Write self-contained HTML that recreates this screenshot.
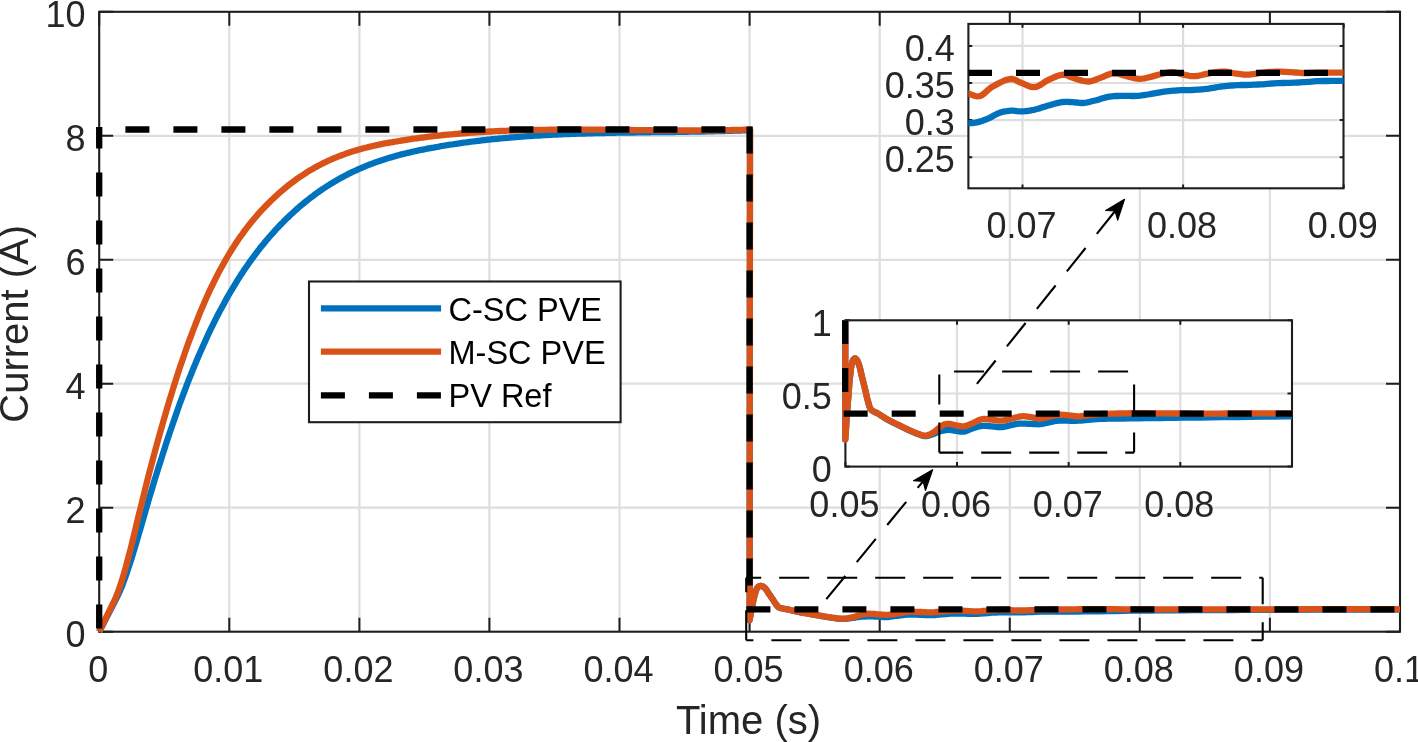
<!DOCTYPE html><html><head><meta charset="utf-8"><title>Current vs Time</title><style>html,body{margin:0;padding:0;background:#fff;overflow:hidden}svg{display:block;will-change:transform}text{font-family:"Liberation Sans",sans-serif}</style></head><body>
<svg width="1418" height="742" viewBox="0 0 1418 742">
<defs>
<clipPath id="cm"><rect x="95.2" y="7.800000000000001" width="1308.8" height="627.9"/></clipPath>
<clipPath id="cl"><rect x="841.4" y="320.3" width="450.6" height="146.3"/></clipPath>
<clipPath id="cu"><rect x="968.4" y="23.9" width="375.1" height="164.4"/></clipPath>
</defs>
<rect width="1418" height="742" fill="#fff"/>
<path d="M229.3,11.8V631.7M359.4,11.8V631.7M489.4,11.8V631.7M619.5,11.8V631.7M749.6,11.8V631.7M879.7,11.8V631.7M1009.8,11.8V631.7M1139.8,11.8V631.7M1269.9,11.8V631.7M99.2,507.7H1400.0M99.2,383.7H1400.0M99.2,259.8H1400.0M99.2,135.8H1400.0" stroke="#DEDEDE" stroke-width="2.2" fill="none"/>
<path d="M99.2,631.7V617.7M99.2,11.8V25.8M229.3,631.7V617.7M229.3,11.8V25.8M359.4,631.7V617.7M359.4,11.8V25.8M489.4,631.7V617.7M489.4,11.8V25.8M619.5,631.7V617.7M619.5,11.8V25.8M749.6,631.7V617.7M749.6,11.8V25.8M879.7,631.7V617.7M879.7,11.8V25.8M1009.8,631.7V617.7M1009.8,11.8V25.8M1139.8,631.7V617.7M1139.8,11.8V25.8M1269.9,631.7V617.7M1269.9,11.8V25.8M1400.0,631.7V617.7M1400.0,11.8V25.8M99.2,631.7H113.2M1400.0,631.7H1386.0M99.2,507.7H113.2M1400.0,507.7H1386.0M99.2,383.7H113.2M1400.0,383.7H1386.0M99.2,259.8H113.2M1400.0,259.8H1386.0M99.2,135.8H113.2M1400.0,135.8H1386.0M99.2,11.8H113.2M1400.0,11.8H1386.0" stroke="#1E1E1E" stroke-width="2" fill="none"/>
<rect x="99.2" y="11.8" width="1300.8" height="619.9" fill="none" stroke="#1E1E1E" stroke-width="2.1"/>
<g clip-path="url(#cm)" fill="none" stroke-linejoin="round">
<path d="M99.2,631.7 L115.2,600.7 L116.7,597.8 L118.2,594.7 L119.7,591.4 L121.3,587.8 L122.8,584 L124.3,579.9 L125.8,575.7 L127.3,571.3 L128.8,566.8 L130.4,562.1 L131.9,557.3 L133.4,552.4 L134.9,547.4 L136.4,542.3 L137.9,537.1 L139.4,531.9 L141,526.7 L142.5,521.4 L144,516.2 L145.5,510.9 L147,505.7 L148.5,500.5 L150,495.4 L151.6,490.3 L153.1,485.2 L154.6,480.2 L156.1,475.3 L157.6,470.4 L159.1,465.5 L160.7,460.7 L162.2,455.9 L163.7,451.2 L165.2,446.5 L166.7,441.8 L168.2,437.3 L169.7,432.7 L171.3,428.2 L172.8,423.8 L174.3,419.4 L175.8,415.1 L177.3,410.8 L178.8,406.5 L180.3,402.3 L181.9,398.2 L183.4,394.1 L184.9,390.1 L186.4,386.1 L187.9,382.2 L189.4,378.3 L191,374.5 L192.5,370.7 L194,367 L195.5,363.4 L197,359.7 L198.5,356.2 L200,352.7 L201.6,349.2 L203.1,345.8 L204.6,342.4 L206.1,339.1 L207.6,335.8 L209.1,332.6 L210.6,329.4 L212.2,326.3 L213.7,323.2 L215.2,320.2 L216.7,317.2 L218.2,314.3 L219.7,311.3 L221.3,308.5 L222.8,305.7 L224.3,302.9 L225.8,300.1 L227.3,297.4 L228.8,294.8 L230.3,292.2 L231.9,289.6 L233.4,287.1 L234.9,284.6 L236.4,282.1 L237.9,279.7 L239.4,277.3 L240.9,274.9 L242.5,272.6 L244,270.3 L245.5,268.1 L247,265.9 L248.5,263.7 L250,261.6 L251.6,259.4 L253.1,257.4 L254.6,255.3 L256.1,253.3 L257.6,251.3 L259.1,249.4 L260.6,247.4 L262.2,245.5 L263.7,243.7 L265.2,241.8 L266.7,240 L268.2,238.3 L269.7,236.5 L271.2,234.8 L272.8,233.1 L274.3,231.4 L275.8,229.7 L277.3,228.1 L278.8,226.5 L280.3,224.9 L281.9,223.4 L283.4,221.8 L284.9,220.3 L286.4,218.8 L287.9,217.4 L289.4,215.9 L290.9,214.5 L292.5,213.1 L294,211.7 L295.5,210.3 L297,209 L298.5,207.7 L300,206.3 L301.5,205.1 L303.1,203.8 L304.6,202.5 L306.1,201.3 L307.6,200.1 L309.1,198.9 L310.6,197.7 L312.2,196.6 L313.7,195.5 L315.2,194.3 L316.7,193.2 L318.2,192.2 L319.7,191.1 L321.2,190 L322.8,189 L324.3,188 L325.8,187 L327.3,186 L328.8,185.1 L330.3,184.1 L331.9,183.2 L333.4,182.3 L334.9,181.4 L336.4,180.5 L337.9,179.6 L339.4,178.8 L340.9,177.9 L342.5,177.1 L344,176.3 L345.5,175.5 L347,174.7 L348.5,173.9 L350,173.2 L351.5,172.4 L353.1,171.7 L354.6,171 L356.1,170.3 L357.6,169.6 L359.1,168.9 L360.6,168.3 L362.2,167.6 L363.7,167 L365.2,166.3 L366.7,165.7 L368.2,165.1 L369.7,164.5 L371.2,164 L372.8,163.4 L374.3,162.8 L375.8,162.3 L377.3,161.7 L378.8,161.2 L380.3,160.7 L381.8,160.2 L383.4,159.7 L384.9,159.2 L386.4,158.7 L387.9,158.3 L389.4,157.8 L390.9,157.4 L392.5,156.9 L394,156.5 L395.5,156.1 L397,155.6 L398.5,155.2 L400,154.8 L401.5,154.4 L403.1,154 L404.6,153.7 L406.1,153.3 L407.6,152.9 L409.1,152.6 L410.6,152.2 L412.1,151.9 L413.7,151.5 L415.2,151.2 L416.7,150.9 L418.2,150.5 L419.7,150.2 L421.2,149.9 L422.8,149.6 L424.3,149.3 L425.8,149 L427.3,148.7 L428.8,148.4 L430.3,148.1 L431.8,147.8 L433.4,147.6 L434.9,147.3 L436.4,147 L437.9,146.8 L439.4,146.5 L440.9,146.2 L442.4,146 L444,145.7 L445.5,145.5 L447,145.2 L448.5,145 L450,144.7 L451.5,144.5 L453.1,144.3 L454.6,144 L456.1,143.8 L457.6,143.6 L459.1,143.4 L460.6,143.1 L462.1,142.9 L463.7,142.7 L465.2,142.5 L466.7,142.3 L468.2,142.1 L469.7,141.9 L471.2,141.7 L472.7,141.5 L474.3,141.3 L475.8,141.1 L477.3,140.9 L478.8,140.8 L480.3,140.6 L481.8,140.4 L483.4,140.2 L484.9,140.1 L486.4,139.9 L487.9,139.7 L489.4,139.6 L490.9,139.4 L492.4,139.2 L494,139.1 L495.5,138.9 L497,138.8 L498.5,138.6 L500,138.5 L501.5,138.3 L503,138.2 L504.6,138 L506.1,137.9 L507.6,137.8 L509.1,137.6 L510.6,137.5 L512.1,137.4 L513.7,137.3 L515.2,137.1 L516.7,137 L518.2,136.9 L519.7,136.8 L521.2,136.7 L522.7,136.6 L524.3,136.4 L525.8,136.3 L527.3,136.2 L528.8,136.1 L530.3,136 L531.8,135.9 L533.3,135.8 L534.9,135.7 L536.4,135.6 L537.9,135.5 L539.4,135.5 L540.9,135.4 L542.4,135.3 L544,135.2 L545.5,135.1 L547,135 L548.5,134.9 L550,134.9 L551.5,134.8 L553,134.7 L554.6,134.6 L556.1,134.6 L557.6,134.5 L559.1,134.4 L560.6,134.4 L562.1,134.3 L563.7,134.2 L565.2,134.2 L566.7,134.1 L568.2,134.1 L569.7,134 L571.2,133.9 L572.7,133.9 L574.3,133.8 L575.8,133.8 L577.3,133.7 L578.8,133.7 L580.3,133.6 L581.8,133.6 L583.3,133.5 L584.9,133.5 L586.4,133.4 L587.9,133.4 L589.4,133.4 L590.9,133.3 L592.4,133.3 L594,133.2 L595.5,133.2 L597,133.2 L598.5,133.1 L600,133.1 L601.5,133 L603,133 L604.6,133 L606.1,132.9 L607.6,132.9 L609.1,132.9 L610.6,132.9 L612.1,132.8 L613.6,132.8 L615.2,132.8 L616.7,132.7 L618.2,132.7 L619.7,132.7 L621.2,132.7 L622.7,132.6 L624.3,132.6 L625.8,132.6 L627.3,132.6 L628.8,132.5 L630.3,132.5 L631.8,132.5 L633.3,132.5 L634.9,132.5 L636.4,132.4 L637.9,132.4 L639.4,132.4 L640.9,132.4 L642.4,132.4 L643.9,132.3 L645.5,132.3 L647,132.3 L648.5,132.3 L650,132.3 L651.5,132.2 L653,132.2 L654.6,132.2 L656.1,132.2 L657.6,132.2 L659.1,132.1 L660.6,132.1 L662.1,132.1 L663.6,132.1 L665.2,132.1 L666.7,132.1 L668.2,132 L669.7,132 L671.2,132 L672.7,132 L674.2,132 L675.8,131.9 L677.3,131.9 L678.8,131.9 L680.3,131.9 L681.8,131.8 L683.3,131.8 L684.9,131.8 L686.4,131.8 L687.9,131.8 L689.4,131.7 L690.9,131.7 L692.4,131.7 L693.9,131.7 L695.5,131.6 L697,131.6 L698.5,131.6 L700,131.5 L701.5,131.5 L703,131.5 L704.5,131.5 L706.1,131.4 L707.6,131.4 L709.1,131.4 L710.6,131.3 L712.1,131.3 L713.6,131.3 L715.2,131.2 L716.7,131.2 L718.2,131.2 L719.7,131.1 L721.2,131.1 L722.7,131 L724.2,131 L725.8,130.9 L727.3,130.9 L728.8,130.9 L730.3,130.8 L731.8,130.8 L733.3,130.7 L734.8,130.7 L736.4,130.6 L737.9,130.6 L739.4,130.5 L740.9,130.5 L742.4,130.4 L743.9,130.3 L745.5,130.3 L747,130.2 L748.5,130.2 L750,130.1 L749.6,620.3 L749.9,618.5 L750.4,616 L750.9,613.1 L751.5,609.9 L752,606.8 L752.6,604 L753.2,601.4 L753.8,598.7 L754.4,596 L755.1,593.5 L755.7,591.3 L756.4,589.6 L757,588.3 L757.7,587.3 L758.4,586.7 L759.1,586.3 L759.8,586.1 L760.6,586 L761.3,586 L762.1,586.2 L762.8,586.5 L763.6,587 L764.4,587.6 L765.1,588.2 L765.8,589 L766.4,589.9 L767.1,590.8 L767.7,591.8 L768.3,592.8 L768.9,593.8 L769.6,594.7 L770.2,595.6 L770.8,596.5 L771.4,597.4 L772,598.3 L772.7,599.3 L773.3,600.2 L773.9,601.2 L774.6,602.2 L775.2,603.1 L775.8,604 L776.4,604.8 L776.9,605.4 L777.3,606 L777.8,606.5 L778.2,606.9 L778.8,607.3 L779.7,607.7 L780.7,608.1 L781.8,608.3 L783.1,608.6 L784.5,608.8 L786,609.1 L787.7,609.4 L789.4,609.8 L791.2,610.3 L793.2,610.7 L795.3,611.2 L797.6,611.7 L800.3,612.3 L803.4,612.9 L807,613.5 L810.9,614.2 L814.7,614.9 L818.3,615.5 L821.4,616.1 L823.9,616.5 L826.1,616.9 L828,617.2 L829.7,617.4 L831.4,617.7 L833.1,617.9 L834.8,618.2 L836.4,618.4 L838,618.6 L839.5,618.8 L841,618.9 L842.5,618.9 L844,618.9 L845.5,618.8 L847,618.7 L848.4,618.5 L849.8,618.3 L851.2,618.2 L852.5,618 L853.6,617.8 L854.8,617.6 L855.9,617.4 L857,617.2 L858.2,617.1 L859.4,616.9 L860.6,616.8 L861.8,616.7 L863,616.6 L864.2,616.6 L865.3,616.5 L866.3,616.4 L867.2,616.4 L868,616.3 L868.8,616.3 L869.7,616.3 L870.8,616.3 L871.9,616.3 L873.1,616.4 L874.4,616.5 L875.7,616.6 L877,616.7 L878.5,616.7 L879.9,616.8 L881.5,616.9 L883.1,617 L884.7,617.1 L886.3,617.1 L887.9,617 L889.4,616.9 L890.9,616.7 L892.4,616.5 L893.9,616.2 L895.4,616 L897.1,615.8 L898.9,615.5 L900.8,615.3 L902.7,615.1 L904.7,614.9 L906.6,614.7 L908.5,614.6 L910.3,614.6 L912.1,614.6 L913.9,614.6 L915.6,614.7 L917.4,614.7 L919.2,614.8 L921.2,614.8 L923.1,614.9 L925.1,615 L927.1,615.1 L929.1,615.2 L931,615.2 L932.8,615.1 L934.6,615 L936.3,614.8 L938,614.7 L939.7,614.5 L941.4,614.4 L943.1,614.3 L944.8,614.1 L946.5,614 L948.2,613.9 L949.9,613.7 L951.7,613.7 L953.6,613.6 L955.5,613.6 L957.5,613.6 L959.5,613.7 L961.5,613.7 L963.5,613.7 L965.5,613.7 L967.6,613.8 L969.7,613.9 L971.8,613.9 L973.9,613.9 L975.9,613.9 L977.8,613.8 L979.6,613.7 L981.4,613.6 L983.2,613.4 L985,613.3 L986.8,613.1 L988.6,613 L990.2,612.8 L991.9,612.7 L993.7,612.6 L995.8,612.5 L998.3,612.4 L1001.4,612.4 L1004.9,612.4 L1008.6,612.4 L1012.6,612.4 L1016.7,612.4 L1020.7,612.4 L1024.6,612.3 L1028.3,612.2 L1032.2,612 L1036.3,611.9 L1041,611.7 L1046.6,611.6 L1053.1,611.6 L1060.5,611.5 L1068.4,611.5 L1076.6,611.5 L1084.8,611.4 L1092.8,611.4 L1100.4,611.3 L1107.8,611.1 L1115.2,611 L1122.8,610.8 L1131,610.7 L1139.8,610.6 L1149.6,610.5 L1160.2,610.4 L1171.2,610.3 L1182.5,610.3 L1193.8,610.2 L1204.9,610.2 L1215,610.1 L1224.2,610.1 L1233.3,610 L1243.4,609.9 L1255.3,609.9 L1269.9,609.8 L1289.3,609.8 L1313.3,609.7 L1339,609.6 L1363.9,609.6 L1385.1,609.5 L1400,609.5" stroke="#0072BD" stroke-width="6.3"/>
<path d="M99.2,631.7 L115.2,599 L116.7,595.3 L118.2,591.4 L119.7,587 L121.3,582.4 L122.8,577.5 L124.3,572.4 L125.8,567 L127.3,561.4 L128.8,555.6 L130.4,549.7 L131.9,543.7 L133.4,537.5 L134.9,531.3 L136.4,525 L137.9,518.8 L139.4,512.5 L141,506.2 L142.5,500 L144,493.9 L145.5,487.8 L147,481.8 L148.5,475.9 L150,470 L151.6,464.2 L153.1,458.4 L154.6,452.7 L156.1,447.1 L157.6,441.6 L159.1,436.1 L160.7,430.7 L162.2,425.3 L163.7,420 L165.2,414.8 L166.7,409.6 L168.2,404.5 L169.7,399.5 L171.3,394.5 L172.8,389.6 L174.3,384.8 L175.8,380 L177.3,375.3 L178.8,370.7 L180.3,366.1 L181.9,361.6 L183.4,357.2 L184.9,352.8 L186.4,348.5 L187.9,344.3 L189.4,340.1 L191,336 L192.5,332 L194,328 L195.5,324.1 L197,320.3 L198.5,316.5 L200,312.8 L201.6,309.1 L203.1,305.6 L204.6,302.1 L206.1,298.6 L207.6,295.2 L209.1,291.9 L210.6,288.7 L212.2,285.5 L213.7,282.4 L215.2,279.3 L216.7,276.3 L218.2,273.4 L219.7,270.5 L221.3,267.7 L222.8,265 L224.3,262.2 L225.8,259.6 L227.3,257 L228.8,254.5 L230.3,252 L231.9,249.5 L233.4,247.1 L234.9,244.8 L236.4,242.5 L237.9,240.2 L239.4,238 L240.9,235.9 L242.5,233.8 L244,231.7 L245.5,229.6 L247,227.7 L248.5,225.7 L250,223.8 L251.6,221.9 L253.1,220.1 L254.6,218.3 L256.1,216.5 L257.6,214.7 L259.1,213 L260.6,211.4 L262.2,209.7 L263.7,208.1 L265.2,206.5 L266.7,205 L268.2,203.4 L269.7,201.9 L271.2,200.4 L272.8,199 L274.3,197.5 L275.8,196.1 L277.3,194.8 L278.8,193.4 L280.3,192.1 L281.9,190.7 L283.4,189.5 L284.9,188.2 L286.4,187 L287.9,185.7 L289.4,184.5 L290.9,183.4 L292.5,182.2 L294,181.1 L295.5,180 L297,178.9 L298.5,177.8 L300,176.8 L301.5,175.8 L303.1,174.8 L304.6,173.8 L306.1,172.8 L307.6,171.9 L309.1,170.9 L310.6,170 L312.2,169.2 L313.7,168.3 L315.2,167.4 L316.7,166.6 L318.2,165.8 L319.7,165 L321.2,164.2 L322.8,163.4 L324.3,162.7 L325.8,162 L327.3,161.2 L328.8,160.5 L330.3,159.9 L331.9,159.2 L333.4,158.5 L334.9,157.9 L336.4,157.3 L337.9,156.7 L339.4,156.1 L340.9,155.5 L342.5,154.9 L344,154.4 L345.5,153.8 L347,153.3 L348.5,152.8 L350,152.3 L351.5,151.8 L353.1,151.3 L354.6,150.8 L356.1,150.4 L357.6,149.9 L359.1,149.5 L360.6,149.1 L362.2,148.6 L363.7,148.2 L365.2,147.8 L366.7,147.5 L368.2,147.1 L369.7,146.7 L371.2,146.4 L372.8,146 L374.3,145.7 L375.8,145.3 L377.3,145 L378.8,144.7 L380.3,144.4 L381.8,144 L383.4,143.7 L384.9,143.4 L386.4,143.2 L387.9,142.9 L389.4,142.6 L390.9,142.3 L392.5,142.1 L394,141.8 L395.5,141.5 L397,141.3 L398.5,141 L400,140.8 L401.5,140.5 L403.1,140.3 L404.6,140.1 L406.1,139.8 L407.6,139.6 L409.1,139.4 L410.6,139.2 L412.1,138.9 L413.7,138.7 L415.2,138.5 L416.7,138.3 L418.2,138.1 L419.7,137.9 L421.2,137.7 L422.8,137.5 L424.3,137.3 L425.8,137.1 L427.3,136.9 L428.8,136.7 L430.3,136.5 L431.8,136.4 L433.4,136.2 L434.9,136 L436.4,135.8 L437.9,135.7 L439.4,135.5 L440.9,135.4 L442.4,135.2 L444,135 L445.5,134.9 L447,134.7 L448.5,134.6 L450,134.4 L451.5,134.3 L453.1,134.2 L454.6,134 L456.1,133.9 L457.6,133.8 L459.1,133.6 L460.6,133.5 L462.1,133.4 L463.7,133.3 L465.2,133.1 L466.7,133 L468.2,132.9 L469.7,132.8 L471.2,132.7 L472.7,132.6 L474.3,132.5 L475.8,132.4 L477.3,132.3 L478.8,132.2 L480.3,132.1 L481.8,132 L483.4,131.9 L484.9,131.8 L486.4,131.7 L487.9,131.6 L489.4,131.5 L490.9,131.5 L492.4,131.4 L494,131.3 L495.5,131.2 L497,131.2 L498.5,131.1 L500,131 L501.5,131 L503,130.9 L504.6,130.8 L506.1,130.8 L507.6,130.7 L509.1,130.7 L510.6,130.6 L512.1,130.5 L513.7,130.5 L515.2,130.4 L516.7,130.4 L518.2,130.3 L519.7,130.3 L521.2,130.3 L522.7,130.2 L524.3,130.2 L525.8,130.1 L527.3,130.1 L528.8,130.1 L530.3,130 L531.8,130 L533.3,130 L534.9,129.9 L536.4,129.9 L537.9,129.9 L539.4,129.9 L540.9,129.8 L542.4,129.8 L544,129.8 L545.5,129.8 L547,129.8 L548.5,129.7 L550,129.7 L551.5,129.7 L553,129.7 L554.6,129.7 L556.1,129.7 L557.6,129.7 L559.1,129.6 L560.6,129.6 L562.1,129.6 L563.7,129.6 L565.2,129.6 L566.7,129.6 L568.2,129.6 L569.7,129.6 L571.2,129.6 L572.7,129.6 L574.3,129.6 L575.8,129.6 L577.3,129.6 L578.8,129.6 L580.3,129.6 L581.8,129.6 L583.3,129.6 L584.9,129.6 L586.4,129.6 L587.9,129.6 L589.4,129.7 L590.9,129.7 L592.4,129.7 L594,129.7 L595.5,129.7 L597,129.7 L598.5,129.7 L600,129.7 L601.5,129.7 L603,129.7 L604.6,129.8 L606.1,129.8 L607.6,129.8 L609.1,129.8 L610.6,129.8 L612.1,129.8 L613.6,129.8 L615.2,129.9 L616.7,129.9 L618.2,129.9 L619.7,129.9 L621.2,129.9 L622.7,129.9 L624.3,130 L625.8,130 L627.3,130 L628.8,130 L630.3,130 L631.8,130 L633.3,130.1 L634.9,130.1 L636.4,130.1 L637.9,130.1 L639.4,130.1 L640.9,130.1 L642.4,130.2 L643.9,130.2 L645.5,130.2 L647,130.2 L648.5,130.2 L650,130.2 L651.5,130.2 L653,130.3 L654.6,130.3 L656.1,130.3 L657.6,130.3 L659.1,130.3 L660.6,130.3 L662.1,130.3 L663.6,130.4 L665.2,130.4 L666.7,130.4 L668.2,130.4 L669.7,130.4 L671.2,130.4 L672.7,130.4 L674.2,130.4 L675.8,130.4 L677.3,130.4 L678.8,130.4 L680.3,130.4 L681.8,130.4 L683.3,130.4 L684.9,130.5 L686.4,130.5 L687.9,130.5 L689.4,130.5 L690.9,130.5 L692.4,130.5 L693.9,130.5 L695.5,130.4 L697,130.4 L698.5,130.4 L700,130.4 L701.5,130.4 L703,130.4 L704.5,130.4 L706.1,130.4 L707.6,130.4 L709.1,130.4 L710.6,130.4 L712.1,130.3 L713.6,130.3 L715.2,130.3 L716.7,130.3 L718.2,130.3 L719.7,130.3 L721.2,130.2 L722.7,130.2 L724.2,130.2 L725.8,130.2 L727.3,130.1 L728.8,130.1 L730.3,130.1 L731.8,130 L733.3,130 L734.8,130 L736.4,129.9 L737.9,129.9 L739.4,129.9 L740.9,129.8 L742.4,129.8 L743.9,129.7 L745.5,129.7 L747,129.6 L748.5,129.6 L750,129.5 L749.6,620.3 L749.9,618.5 L750.4,616 L750.9,613.1 L751.5,609.9 L752,606.8 L752.6,604 L753.2,601.4 L753.8,598.7 L754.4,596 L755.1,593.5 L755.7,591.3 L756.4,589.6 L757,588.3 L757.7,587.3 L758.4,586.7 L759.1,586.3 L759.8,586.1 L760.6,586 L761.3,586 L762.1,586.2 L762.8,586.5 L763.6,587 L764.4,587.6 L765.1,588.2 L765.8,589 L766.4,589.9 L767.1,590.8 L767.7,591.8 L768.3,592.8 L768.9,593.8 L769.6,594.7 L770.2,595.6 L770.8,596.5 L771.4,597.4 L772,598.3 L772.7,599.3 L773.3,600.2 L773.9,601.2 L774.6,602.2 L775.2,603.1 L775.8,604 L776.4,604.8 L776.9,605.4 L777.3,606 L777.8,606.5 L778.2,606.9 L778.8,607.3 L779.7,607.7 L780.7,608.1 L781.8,608.3 L783.1,608.6 L784.5,608.8 L786,609.1 L787.7,609.4 L789.4,609.8 L791.2,610.2 L793.2,610.7 L795.3,611.1 L797.6,611.6 L800.3,612.2 L803.4,612.8 L807,613.4 L810.9,614.1 L814.7,614.8 L818.3,615.4 L821.4,615.9 L823.9,616.4 L826.1,616.7 L828,617 L829.7,617.3 L831.4,617.6 L833.1,617.8 L834.8,618 L836.4,618.3 L838,618.5 L839.5,618.6 L841,618.7 L842.5,618.8 L844,618.7 L845.5,618.6 L847,618.4 L848.4,618.2 L849.8,617.9 L851.2,617.6 L852.5,617.3 L853.7,617 L854.8,616.7 L856,616.3 L857.1,615.9 L858.2,615.6 L859.3,615.3 L860.3,615 L861.4,614.7 L862.4,614.5 L863.4,614.2 L864.5,614.1 L865.5,613.9 L866.5,613.8 L867.5,613.8 L868.6,613.7 L869.6,613.7 L870.8,613.8 L871.9,613.8 L873.2,613.9 L874.4,614 L875.7,614.1 L877.1,614.3 L878.5,614.4 L879.9,614.5 L881.5,614.6 L883.1,614.7 L884.7,614.8 L886.3,614.8 L887.9,614.8 L889.4,614.7 L890.9,614.5 L892.4,614.3 L893.9,614.1 L895.4,613.8 L897.1,613.6 L898.9,613.3 L900.8,613 L902.7,612.6 L904.7,612.2 L906.6,612 L908.5,611.8 L910.3,611.7 L912.1,611.7 L913.9,611.7 L915.6,611.8 L917.4,611.9 L919.2,611.9 L921.1,612 L923.1,612.1 L925.1,612.2 L927.1,612.3 L929,612.4 L931,612.4 L932.9,612.3 L934.8,612.2 L936.7,612 L938.6,611.9 L940.6,611.7 L942.5,611.5 L944.6,611.3 L946.8,611.1 L949,610.9 L951.1,610.8 L953.2,610.6 L955.1,610.5 L956.9,610.5 L958.5,610.5 L960,610.6 L961.5,610.7 L963,610.7 L964.7,610.8 L966.4,610.9 L968.3,611.1 L970.2,611.2 L972.1,611.3 L974,611.4 L975.9,611.5 L977.7,611.4 L979.5,611.3 L981.3,611.2 L983.1,611 L985,610.9 L986.8,610.7 L988.7,610.6 L990.6,610.4 L992.6,610.3 L994.5,610.1 L996.5,610 L998.3,609.9 L1000.1,609.9 L1001.9,609.9 L1003.6,609.9 L1005.4,610 L1007.1,610 L1008.9,610.1 L1010.8,610.2 L1012.7,610.3 L1014.7,610.4 L1016.7,610.4 L1018.7,610.5 L1020.7,610.5 L1022.8,610.5 L1024.9,610.4 L1027,610.3 L1029.1,610.2 L1031.3,610.1 L1033.4,610.1 L1035.5,610 L1037.6,609.9 L1039.7,609.8 L1041.9,609.7 L1044.1,609.7 L1046.6,609.6 L1049.1,609.5 L1051.6,609.5 L1054.2,609.5 L1057,609.4 L1060.2,609.4 L1063.8,609.4 L1067.5,609.3 L1071.1,609.3 L1075,609.3 L1079.7,609.2 L1085.5,609.2 L1092.8,609.2 L1102.2,609.2 L1113.5,609.2 L1126,609.3 L1138.8,609.3 L1151.3,609.4 L1162.7,609.4 L1173.2,609.4 L1183.4,609.4 L1193.2,609.3 L1202.7,609.3 L1212,609.3 L1221,609.3 L1228.7,609.3 L1235,609.3 L1241,609.3 L1247.9,609.3 L1257.2,609.3 L1269.9,609.3 L1288.4,609.3 L1312.1,609.2 L1338,609.2 L1363.3,609.2 L1384.9,609.2 L1400,609.1" stroke="#D95319" stroke-width="6.3"/>
<line x1="99.2" y1="631.7" x2="99.2" y2="126.9" stroke="#000" stroke-width="6.3" stroke-dasharray="24 24" stroke-dashoffset="44.8"/>
<line x1="102.4" y1="129.5" x2="749.6" y2="129.5" stroke="#000" stroke-width="6.3" stroke-dasharray="24 24" stroke-dashoffset="25"/>
<line x1="749.6" y1="126.5" x2="749.6" y2="609.3" stroke="#000" stroke-width="6.3" stroke-dasharray="27 21" stroke-dashoffset="0"/>
<line x1="746.6" y1="609.3" x2="1400.0" y2="609.3" stroke="#000" stroke-width="6.3" stroke-dasharray="24 24" stroke-dashoffset="0.2"/>
</g>
<g font-size="36" fill="#262626"><text x="98.2" y="681.5" text-anchor="middle">0</text><text x="228.3" y="681.5" text-anchor="middle">0.01</text><text x="358.4" y="681.5" text-anchor="middle">0.02</text><text x="488.4" y="681.5" text-anchor="middle">0.03</text><text x="618.5" y="681.5" text-anchor="middle">0.04</text><text x="748.6" y="681.5" text-anchor="middle">0.05</text><text x="878.7" y="681.5" text-anchor="middle">0.06</text><text x="1008.8" y="681.5" text-anchor="middle">0.07</text><text x="1138.8" y="681.5" text-anchor="middle">0.08</text><text x="1268.9" y="681.5" text-anchor="middle">0.09</text><text x="1399.0" y="681.5" text-anchor="middle">0.1</text><text x="85.5" y="646.7" text-anchor="end">0</text><text x="85.5" y="522.7" text-anchor="end">2</text><text x="85.5" y="398.7" text-anchor="end">4</text><text x="85.5" y="274.8" text-anchor="end">6</text><text x="85.5" y="150.8" text-anchor="end">8</text><text x="85.5" y="26.8" text-anchor="end">10</text></g>
<text x="748.5" y="734.2" text-anchor="middle" font-size="40" fill="#262626">Time (s)</text>
<text transform="translate(27.8,323.8) rotate(-90)" text-anchor="middle" font-size="40" fill="#262626">Current (A)</text>
<rect x="309" y="281.5" width="311.6" height="140.7" fill="#fff" stroke="#1E1E1E" stroke-width="2.1"/>
<line x1="320.9" y1="308.4" x2="441.1" y2="308.4" stroke="#0072BD" stroke-width="6.3"/>
<line x1="320.9" y1="351.7" x2="441.1" y2="351.7" stroke="#D95319" stroke-width="6.3"/>
<line x1="320.9" y1="395.4" x2="441.1" y2="395.4" stroke="#000" stroke-width="6.3" stroke-dasharray="24 24"/>
<g font-size="32.5" fill="#000">
<text x="448.5" y="320.6">C-SC PVE</text>
<text x="448.5" y="363.8">M-SC PVE</text>
<text x="448.5" y="407">PV Ref</text>
</g>
<rect x="845.4" y="320.3" width="446.6" height="146.3" fill="#fff"/>
<path d="M957.0,320.3V466.6M1068.7,320.3V466.6M1180.3,320.3V466.6M845.4,393.5H1292.0" stroke="#DEDEDE" stroke-width="2.2" fill="none"/>
<path d="M845.4,466.6V462.1M845.4,320.3V324.8M957.0,466.6V462.1M957.0,320.3V324.8M1068.7,466.6V462.1M1068.7,320.3V324.8M1180.3,466.6V462.1M1180.3,320.3V324.8M845.4,466.6H849.9M1292.0,466.6H1287.5M845.4,393.5H849.9M1292.0,393.5H1287.5M845.4,320.3H849.9M1292.0,320.3H1287.5" stroke="#1E1E1E" stroke-width="2" fill="none"/>
<rect x="845.4" y="320.3" width="446.6" height="146.3" fill="none" stroke="#1E1E1E" stroke-width="2.1"/>
<g clip-path="url(#cl)" fill="none" stroke-linejoin="round">
<path d="M845.3,300 L845.3,439.4 L845.5,436.4 L845.8,432.4 L846.1,427.6 L846.4,422.3 L846.8,416.8 L847.2,411.2 L847.6,405.9 L848,401 L848.4,396.4 L848.8,391.6 L849.1,386.8 L849.5,382.1 L849.9,377.7 L850.4,373.6 L850.8,370 L851.2,367 L851.6,364.6 L852.1,362.8 L852.5,361.3 L853,360.3 L853.4,359.5 L853.9,359.1 L854.3,358.7 L854.8,358.5 L855.3,358.5 L855.8,358.7 L856.3,359.2 L856.8,359.9 L857.3,360.7 L857.8,361.7 L858.2,362.8 L858.7,363.9 L859.1,365.2 L859.6,366.6 L860,368.2 L860.4,369.9 L860.8,371.7 L861.2,373.5 L861.6,375.2 L862,376.9 L862.4,378.5 L862.8,380.1 L863.2,381.7 L863.6,383.3 L864,385 L864.4,386.6 L864.8,388.2 L865.2,389.8 L865.6,391.5 L866,393.2 L866.4,394.9 L866.8,396.7 L867.2,398.4 L867.6,400 L868,401.5 L868.4,402.8 L868.7,404 L869,405 L869.3,406 L869.6,406.8 L869.9,407.6 L870.2,408.3 L870.7,409 L871.2,409.7 L871.8,410.3 L872.5,410.8 L873.3,411.3 L874.1,411.7 L875,412.1 L876,412.6 L877,413.1 L878.1,413.7 L879.2,414.4 L880.4,415.1 L881.5,415.9 L882.8,416.7 L884.1,417.6 L885.6,418.5 L887.2,419.4 L888.9,420.4 L890.9,421.4 L893.1,422.6 L895.5,423.8 L898,425 L900.5,426.2 L902.9,427.3 L905.1,428.4 L907,429.3 L908.7,430.1 L910.1,430.8 L911.5,431.4 L912.7,431.9 L913.8,432.4 L914.9,432.8 L916,433.3 L917.1,433.7 L918.2,434.1 L919.3,434.5 L920.3,434.9 L921.3,435.3 L922.2,435.6 L923.2,435.8 L924.1,436 L925.1,436.1 L926.1,436.1 L927,436 L928,435.8 L929,435.5 L929.9,435.2 L930.8,434.9 L931.7,434.6 L932.6,434.3 L933.4,434 L934.2,433.7 L935,433.3 L935.7,433 L936.4,432.6 L937.1,432.3 L937.9,432 L938.6,431.7 L939.4,431.5 L940.2,431.2 L940.9,431 L941.7,430.9 L942.5,430.7 L943.3,430.6 L944,430.4 L944.7,430.3 L945.3,430.2 L945.9,430.1 L946.5,430 L947,429.9 L947.6,429.8 L948.1,429.8 L948.7,429.8 L949.4,429.8 L950.1,429.9 L950.9,430 L951.7,430.1 L952.5,430.3 L953.3,430.4 L954.2,430.6 L955.1,430.8 L956,430.9 L956.9,431 L957.9,431.2 L958.9,431.4 L960,431.5 L961,431.6 L962.1,431.7 L963.1,431.7 L964.1,431.6 L965.1,431.4 L966,431.1 L967,430.7 L967.9,430.3 L968.9,429.9 L969.9,429.4 L970.9,429 L972,428.6 L973.1,428.2 L974.3,427.8 L975.6,427.4 L976.8,427 L978.1,426.7 L979.3,426.4 L980.6,426.1 L981.8,425.9 L983,425.8 L984.1,425.8 L985.3,425.8 L986.4,425.9 L987.5,426 L988.7,426.1 L989.8,426.2 L991,426.3 L992.2,426.4 L993.5,426.6 L994.8,426.7 L996.1,426.9 L997.4,427 L998.6,427.2 L999.9,427.2 L1001.1,427.2 L1002.3,427.1 L1003.4,426.9 L1004.5,426.7 L1005.6,426.5 L1006.7,426.2 L1007.8,425.9 L1008.9,425.6 L1010,425.4 L1011.1,425.2 L1012.2,424.9 L1013.3,424.7 L1014.4,424.4 L1015.5,424.2 L1016.6,424 L1017.7,423.8 L1018.9,423.7 L1020.1,423.6 L1021.3,423.6 L1022.6,423.6 L1023.8,423.6 L1025.1,423.7 L1026.4,423.7 L1027.7,423.8 L1029,423.8 L1030.3,423.9 L1031.6,423.9 L1033,424 L1034.3,424.1 L1035.7,424.2 L1037,424.2 L1038.3,424.3 L1039.6,424.2 L1040.8,424.1 L1042,423.9 L1043.2,423.7 L1044.3,423.4 L1045.5,423.2 L1046.6,422.9 L1047.8,422.6 L1049,422.4 L1050.2,422.2 L1051.2,421.9 L1052.3,421.7 L1053.3,421.4 L1054.5,421.2 L1055.8,421 L1057.2,420.8 L1058.9,420.7 L1060.8,420.6 L1063,420.6 L1065.3,420.7 L1067.7,420.7 L1070.3,420.8 L1072.9,420.8 L1075.5,420.8 L1078.1,420.7 L1080.6,420.6 L1083,420.3 L1085.4,420.1 L1087.9,419.8 L1090.6,419.6 L1093.4,419.3 L1096.7,419.1 L1100.3,418.9 L1104.3,418.8 L1108.5,418.7 L1113,418.6 L1117.8,418.5 L1122.9,418.5 L1128.2,418.4 L1133.9,418.4 L1140,418.3 L1146.3,418.2 L1152.8,418.1 L1159.6,418 L1166.7,417.9 L1174.3,417.8 L1182.3,417.7 L1190.8,417.6 L1200,417.5 L1210.6,417.4 L1222.9,417.2 L1236.2,417 L1249.8,416.9 L1262.8,416.7 L1274.7,416.5 L1284.7,416.4 L1292,416.3" stroke="#0072BD" stroke-width="6.3"/>
<path d="M845.3,300 L845.3,439.4 L845.5,436.4 L845.8,432.4 L846.1,427.6 L846.4,422.3 L846.8,416.8 L847.2,411.2 L847.6,405.9 L848,401 L848.4,396.4 L848.8,391.6 L849.1,386.8 L849.5,382.1 L849.9,377.7 L850.4,373.6 L850.8,370 L851.2,367 L851.6,364.6 L852.1,362.8 L852.5,361.3 L853,360.3 L853.4,359.5 L853.9,359.1 L854.3,358.7 L854.8,358.5 L855.3,358.5 L855.8,358.7 L856.3,359.2 L856.8,359.9 L857.3,360.7 L857.8,361.7 L858.2,362.8 L858.7,363.9 L859.1,365.2 L859.6,366.6 L860,368.2 L860.4,369.9 L860.8,371.7 L861.2,373.5 L861.6,375.2 L862,376.9 L862.4,378.5 L862.8,380.1 L863.2,381.7 L863.6,383.3 L864,385 L864.4,386.6 L864.8,388.2 L865.2,389.8 L865.6,391.5 L866,393.2 L866.4,394.9 L866.8,396.7 L867.2,398.4 L867.6,400 L868,401.5 L868.4,402.8 L868.7,404 L869,405 L869.3,406 L869.6,406.8 L869.9,407.6 L870.2,408.3 L870.7,409 L871.2,409.7 L871.8,410.3 L872.5,410.8 L873.3,411.3 L874.1,411.7 L875,412.1 L876,412.5 L877,413 L878.1,413.6 L879.2,414.3 L880.4,415 L881.5,415.8 L882.8,416.6 L884.1,417.4 L885.6,418.3 L887.2,419.3 L888.9,420.2 L890.9,421.2 L893.1,422.3 L895.5,423.5 L898,424.7 L900.5,425.9 L902.9,427.1 L905.1,428.1 L907,429 L908.7,429.8 L910.1,430.5 L911.5,431.1 L912.7,431.6 L913.8,432.1 L914.9,432.6 L916,433 L917.1,433.4 L918.2,433.8 L919.3,434.2 L920.3,434.6 L921.3,435 L922.2,435.3 L923.2,435.5 L924.1,435.7 L925.1,435.7 L926.1,435.6 L927,435.4 L928,435.1 L929,434.8 L929.9,434.4 L930.8,433.9 L931.7,433.5 L932.6,433 L933.4,432.5 L934.2,431.9 L935,431.3 L935.7,430.7 L936.5,430.1 L937.2,429.5 L937.9,428.9 L938.6,428.3 L939.3,427.8 L940,427.2 L940.7,426.7 L941.3,426.2 L942,425.7 L942.7,425.3 L943.3,424.9 L944,424.6 L944.7,424.4 L945.3,424.2 L946,424 L946.6,423.9 L947.3,423.9 L948,423.9 L948.7,423.9 L949.4,423.9 L950.2,424 L950.9,424.1 L951.7,424.3 L952.5,424.5 L953.4,424.7 L954.2,424.9 L955.1,425.1 L956,425.3 L956.9,425.5 L957.9,425.7 L958.9,425.9 L960,426.1 L961,426.2 L962.1,426.3 L963.1,426.4 L964.1,426.3 L965.1,426.1 L966,425.9 L967,425.6 L967.9,425.2 L968.9,424.8 L969.9,424.4 L970.9,423.9 L972,423.5 L973.1,423 L974.3,422.4 L975.6,421.8 L976.8,421.1 L978.1,420.5 L979.3,420 L980.6,419.5 L981.8,419.2 L983,419 L984.1,419 L985.3,419 L986.4,419.1 L987.5,419.2 L988.7,419.3 L989.8,419.5 L991,419.6 L992.2,419.7 L993.5,419.9 L994.7,420.1 L996,420.3 L997.3,420.5 L998.6,420.6 L999.8,420.7 L1001.1,420.7 L1002.3,420.6 L1003.6,420.4 L1004.8,420.2 L1006,419.9 L1007.2,419.5 L1008.5,419.2 L1009.7,418.9 L1011,418.6 L1012.3,418.3 L1013.7,418 L1015.1,417.6 L1016.5,417.3 L1017.9,417 L1019.3,416.7 L1020.6,416.4 L1021.8,416.3 L1022.9,416.2 L1024,416.2 L1025,416.3 L1026,416.4 L1026.9,416.5 L1027.9,416.7 L1028.9,416.9 L1030,417 L1031.1,417.2 L1032.3,417.4 L1033.5,417.6 L1034.7,417.9 L1036,418.1 L1037.2,418.3 L1038.4,418.5 L1039.6,418.5 L1040.8,418.4 L1042,418.3 L1043.1,418.1 L1044.3,417.9 L1045.4,417.6 L1046.6,417.3 L1047.8,417 L1049,416.8 L1050.2,416.5 L1051.5,416.3 L1052.7,416 L1054,415.7 L1055.2,415.4 L1056.5,415.1 L1057.7,414.9 L1058.9,414.8 L1060.1,414.7 L1061.2,414.7 L1062.3,414.8 L1063.4,414.9 L1064.5,415 L1065.7,415.1 L1066.8,415.2 L1068,415.3 L1069.2,415.4 L1070.4,415.6 L1071.7,415.7 L1072.9,415.9 L1074.2,416.1 L1075.5,416.2 L1076.8,416.3 L1078.1,416.3 L1079.4,416.3 L1080.8,416.2 L1082.1,416 L1083.5,415.9 L1084.8,415.7 L1086.2,415.5 L1087.6,415.4 L1089,415.2 L1090.4,415.1 L1091.7,414.9 L1093.1,414.8 L1094.4,414.6 L1095.8,414.5 L1097.2,414.3 L1098.7,414.2 L1100.3,414.1 L1101.9,414 L1103.5,413.9 L1105.1,413.9 L1106.8,413.8 L1108.7,413.8 L1110.6,413.7 L1112.7,413.7 L1115.1,413.6 L1117.5,413.5 L1119.8,413.5 L1122.2,413.4 L1124.7,413.3 L1127.6,413.3 L1131.1,413.2 L1135.1,413.2 L1140,413.2 L1145.9,413.2 L1152.8,413.3 L1160.4,413.3 L1168.4,413.4 L1176.7,413.5 L1184.9,413.5 L1192.7,413.6 L1200,413.6 L1206.8,413.6 L1213.4,413.6 L1219.8,413.6 L1226.1,413.5 L1232.3,413.5 L1238.3,413.5 L1244.2,413.4 L1250,413.4 L1255.9,413.4 L1262,413.4 L1268.2,413.4 L1274.1,413.4 L1279.7,413.4 L1284.6,413.4 L1288.8,413.4 L1292,413.4" stroke="#D95319" stroke-width="6.3"/>
<line x1="845.2" y1="413.6" x2="845.2" y2="300" stroke="#000" stroke-width="6.3" stroke-dasharray="24 24" stroke-dashoffset="26.4"/>
<line x1="843.7" y1="413.6" x2="1292.0" y2="413.6" stroke="#000" stroke-width="6.3" stroke-dasharray="24 24" stroke-dashoffset="0"/>
</g>
<g font-size="36" fill="#262626"><text x="844.4" y="517.1" text-anchor="middle">0.05</text><text x="956.0" y="517.1" text-anchor="middle">0.06</text><text x="1067.7" y="517.1" text-anchor="middle">0.07</text><text x="1179.3" y="517.1" text-anchor="middle">0.08</text><text x="831.9" y="482.4" text-anchor="end">0</text><text x="831.9" y="409.3" text-anchor="end">0.5</text><text x="831.9" y="336.1" text-anchor="end">1</text></g>
<rect x="968.4" y="23.9" width="375.1" height="164.4" fill="#fff"/>
<path d="M1022.5,23.9V188.3M1183.1,23.9V188.3M968.4,157.2H1343.5M968.4,120.1H1343.5M968.4,83.0H1343.5M968.4,45.9H1343.5" stroke="#DEDEDE" stroke-width="2.2" fill="none"/>
<path d="M1022.5,188.3V184.5M1022.5,23.9V27.7M1183.1,188.3V184.5M1183.1,23.9V27.7M1343.7,188.3V184.5M1343.7,23.9V27.7M968.4,157.2H972.1999999999999M1343.5,157.2H1339.7M968.4,120.1H972.1999999999999M1343.5,120.1H1339.7M968.4,83.0H972.1999999999999M1343.5,83.0H1339.7M968.4,45.9H972.1999999999999M1343.5,45.9H1339.7" stroke="#1E1E1E" stroke-width="2" fill="none"/>
<rect x="968.4" y="23.9" width="375.1" height="164.4" fill="none" stroke="#1E1E1E" stroke-width="2.1"/>
<g clip-path="url(#cu)" fill="none" stroke-linejoin="round">
<path d="M960,123.8 L960.7,123.8 L961.7,123.7 L962.9,123.7 L964.3,123.6 L965.7,123.5 L967.1,123.4 L968.6,123.3 L970.1,123.2 L971.7,123.1 L973.4,123 L975.1,122.7 L976.9,122.4 L978.7,121.9 L980.6,121.4 L982.5,120.7 L984.4,120 L986.3,119.3 L988.2,118.5 L990.1,117.6 L992,116.6 L993.9,115.5 L995.7,114.5 L997.6,113.6 L999.5,112.8 L1001.4,112.2 L1003.2,111.7 L1005.1,111.3 L1006.9,111.1 L1008.8,110.8 L1010.8,110.7 L1012.8,110.7 L1014.9,110.8 L1017.1,111.1 L1019.2,111.3 L1021.4,111.4 L1023.5,111.4 L1025.6,111.2 L1027.8,111 L1029.9,110.6 L1032.1,110.2 L1034.2,109.8 L1036.2,109.3 L1038.1,108.8 L1039.9,108.2 L1041.7,107.6 L1043.5,107 L1045.4,106.4 L1047.4,105.8 L1049.6,105.2 L1052,104.5 L1054.5,103.8 L1057,103.1 L1059.4,102.6 L1061.6,102.2 L1063.7,102 L1065.6,101.9 L1067.5,101.9 L1069.3,102 L1071,102.1 L1072.8,102.2 L1074.5,102.3 L1076.1,102.5 L1077.7,102.7 L1079.3,102.9 L1081,103 L1082.7,103 L1084.5,102.8 L1086.2,102.6 L1088,102.2 L1089.9,101.8 L1091.9,101.3 L1094,100.8 L1096.4,100.2 L1099,99.4 L1101.7,98.6 L1104.4,97.8 L1107,97.1 L1109.5,96.6 L1111.8,96.3 L1113.9,96.1 L1115.9,96 L1118,96 L1120,95.9 L1122.2,95.9 L1124.5,95.9 L1126.9,95.9 L1129.3,95.9 L1131.8,96 L1134.1,96 L1136.3,95.9 L1138.3,95.8 L1140.1,95.6 L1141.8,95.4 L1143.6,95.1 L1145.4,94.8 L1147.6,94.5 L1150.1,94.1 L1152.8,93.6 L1155.7,93.1 L1158.6,92.6 L1161.4,92.1 L1164.1,91.7 L1166.6,91.4 L1169,91.1 L1171.3,90.8 L1173.6,90.6 L1175.9,90.5 L1178.2,90.3 L1180.5,90.2 L1182.9,90.1 L1185.2,90.1 L1187.6,90.1 L1190,90.1 L1192.3,90 L1194.6,89.9 L1197,89.7 L1199.3,89.6 L1201.7,89.4 L1204,89.2 L1206.4,88.9 L1208.8,88.6 L1211.1,88.2 L1213.5,87.8 L1215.8,87.4 L1218.2,87 L1220.5,86.7 L1222.8,86.4 L1225.2,86.1 L1227.5,85.9 L1229.9,85.7 L1232.2,85.5 L1234.6,85.3 L1236.9,85.2 L1239.3,85.1 L1241.6,85 L1244,85 L1246.3,85 L1248.7,84.9 L1251,84.8 L1253.4,84.7 L1255.8,84.6 L1258.1,84.5 L1260.5,84.4 L1262.8,84.3 L1265.1,84.1 L1267.5,83.9 L1269.8,83.7 L1272.2,83.5 L1274.5,83.3 L1276.9,83.2 L1279.2,83.1 L1281.6,83 L1284,83 L1286.3,82.9 L1288.7,82.9 L1291,82.8 L1293.3,82.7 L1295.7,82.6 L1298,82.5 L1300.4,82.4 L1302.7,82.2 L1305.1,82.1 L1307.3,81.9 L1309.5,81.8 L1311.6,81.6 L1313.8,81.4 L1316.4,81.2 L1319.3,81.1 L1322.9,81 L1327.2,81 L1331.7,80.9 L1336.1,80.9 L1340.1,80.9 L1343.2,80.9 L1345.4,80.9 L1347,80.9 L1348.1,80.9 L1348.9,80.9 L1349.5,80.9 L1350,80.9" stroke="#0072BD" stroke-width="6.3"/>
<path d="M960,92 L960.7,92.1 L961.6,92.2 L962.8,92.4 L964.1,92.5 L965.5,92.8 L967.1,93.1 L968.9,93.6 L970.9,94.5 L973.1,95.3 L975.3,96 L977.5,96.4 L979.7,96.2 L981.8,95.3 L983.7,93.9 L985.7,92.1 L987.8,90.2 L990,88.3 L992.4,86.7 L995.1,85.2 L998.1,83.6 L1001.3,82 L1004.4,80.6 L1007.4,79.6 L1010.1,79 L1012.4,79 L1014.5,79.5 L1016.4,80.4 L1018.2,81.4 L1020,82.4 L1022,83.2 L1024.1,84 L1026.2,85 L1028.3,85.9 L1030.4,86.7 L1032.6,87.2 L1034.8,87.2 L1037.1,86.6 L1039.4,85.5 L1041.8,84 L1044.2,82.4 L1046.5,80.9 L1048.9,79.7 L1051.3,78.6 L1053.7,77.5 L1056.1,76.5 L1058.5,75.6 L1060.8,75 L1063,74.7 L1065,74.8 L1066.8,75.3 L1068.6,76 L1070.4,76.8 L1072.2,77.6 L1074.2,78.3 L1076.4,78.9 L1078.7,79.7 L1081.2,80.4 L1083.6,81 L1086,81.4 L1088.3,81.5 L1090.5,81.3 L1092.6,80.7 L1094.7,80 L1096.8,79.2 L1098.9,78.4 L1101,77.6 L1103.1,76.8 L1105.1,75.9 L1107.2,75 L1109.3,74.2 L1111.4,73.6 L1113.7,73.3 L1116.2,73.5 L1118.8,74 L1121.5,74.7 L1124.2,75.5 L1126.8,76.3 L1129.3,76.9 L1131.5,77.4 L1133.5,77.9 L1135.4,78.3 L1137.3,78.6 L1139.4,78.8 L1141.9,78.7 L1144.8,78.3 L1148.2,77.5 L1151.7,76.6 L1155.2,75.6 L1158.5,74.7 L1161.3,74 L1163.7,73.5 L1165.7,73 L1167.5,72.7 L1169.1,72.4 L1170.8,72.2 L1172.6,72.2 L1174.5,72.4 L1176.4,72.8 L1178.3,73.2 L1180.1,73.8 L1182,74.3 L1183.9,74.7 L1185.7,75.1 L1187.5,75.4 L1189.3,75.8 L1191.2,76.1 L1193.1,76.2 L1195.1,76.2 L1197.3,76 L1199.6,75.5 L1202,75 L1204.4,74.3 L1206.8,73.8 L1209.2,73.3 L1211.6,72.9 L1214,72.5 L1216.4,72.2 L1218.8,71.9 L1221.1,71.7 L1223.3,71.6 L1225.3,71.7 L1227.2,71.9 L1229,72.3 L1230.8,72.6 L1232.7,73 L1234.6,73.3 L1236.6,73.6 L1238.6,73.9 L1240.7,74.2 L1242.8,74.5 L1245,74.7 L1247.3,74.7 L1249.7,74.5 L1252.3,74.2 L1255,73.8 L1257.6,73.3 L1260.3,72.9 L1262.8,72.6 L1265.2,72.4 L1267.6,72.1 L1269.9,71.9 L1272.3,71.8 L1274.6,71.7 L1276.9,71.6 L1279.2,71.6 L1281.6,71.7 L1284,71.8 L1286.3,71.9 L1288.7,72.1 L1291,72.2 L1293.3,72.3 L1295.7,72.5 L1298,72.7 L1300.4,72.9 L1302.7,73 L1305.1,73.1 L1307.3,73.1 L1309.5,73 L1311.6,72.9 L1313.8,72.8 L1316.4,72.7 L1319.3,72.6 L1322.9,72.6 L1327.2,72.6 L1331.7,72.6 L1336.1,72.6 L1340.1,72.6 L1343.2,72.6 L1345.4,72.6 L1347,72.6 L1348.1,72.6 L1348.9,72.6 L1349.5,72.6 L1350,72.6" stroke="#D95319" stroke-width="6.3"/>
<line x1="968.4" y1="72.9" x2="1343.5" y2="72.9" stroke="#000" stroke-width="6.3" stroke-dasharray="24 24" stroke-dashoffset="0.4"/>
</g>
<g font-size="36" fill="#262626"><text x="1021.5" y="238.0" text-anchor="middle">0.07</text><text x="1182.1" y="238.0" text-anchor="middle">0.08</text><text x="1342.7" y="238.0" text-anchor="middle">0.09</text><text x="954.9" y="172.0" text-anchor="end">0.25</text><text x="954.9" y="134.9" text-anchor="end">0.3</text><text x="954.9" y="97.8" text-anchor="end">0.35</text><text x="954.9" y="60.7" text-anchor="end">0.4</text></g>
<line x1="746.2" y1="577.8" x2="1262.7" y2="577.8" stroke="#000" stroke-width="2.1" stroke-dasharray="30 18" stroke-dashoffset="15"/>
<line x1="1262.7" y1="577.8" x2="1262.7" y2="640.2" stroke="#000" stroke-width="2.1" stroke-dasharray="30 18" stroke-dashoffset="3.5"/>
<line x1="1262.7" y1="640.2" x2="746.2" y2="640.2" stroke="#000" stroke-width="2.1" stroke-dasharray="30 18" stroke-dashoffset="18.7"/>
<line x1="746.2" y1="640.2" x2="746.2" y2="577.8" stroke="#000" stroke-width="2.1" stroke-dasharray="30 18" stroke-dashoffset="0"/>
<line x1="939.3" y1="371.5" x2="1134.1" y2="371.5" stroke="#000" stroke-width="2.1" stroke-dasharray="30 18" stroke-dashoffset="33.2"/>
<line x1="1134.1" y1="371.5" x2="1134.1" y2="452.6" stroke="#000" stroke-width="2.1" stroke-dasharray="30 18" stroke-dashoffset="35"/>
<line x1="1134.1" y1="452.6" x2="939.3" y2="452.6" stroke="#000" stroke-width="2.1" stroke-dasharray="30 18" stroke-dashoffset="21.1"/>
<line x1="939.3" y1="452.6" x2="939.3" y2="371.5" stroke="#000" stroke-width="2.1" stroke-dasharray="30 18" stroke-dashoffset="0"/>
<line x1="826.3" y1="599.2" x2="923.7" y2="480.5" stroke="#000" stroke-width="2.1" stroke-dasharray="30 18"/><path d="M932.6,469.7L925.5,490.4L923.1,481.3L913.6,480.7Z" fill="#000" stroke="#000" stroke-width="1.2" stroke-linejoin="round"/>
<line x1="976.9" y1="383.9" x2="1115.8" y2="210.2" stroke="#000" stroke-width="2.1" stroke-dasharray="30 18"/><path d="M1124.5,199.3L1117.7,220.1L1115.1,211.0L1105.7,210.5Z" fill="#000" stroke="#000" stroke-width="1.2" stroke-linejoin="round"/>
</svg></body></html>
